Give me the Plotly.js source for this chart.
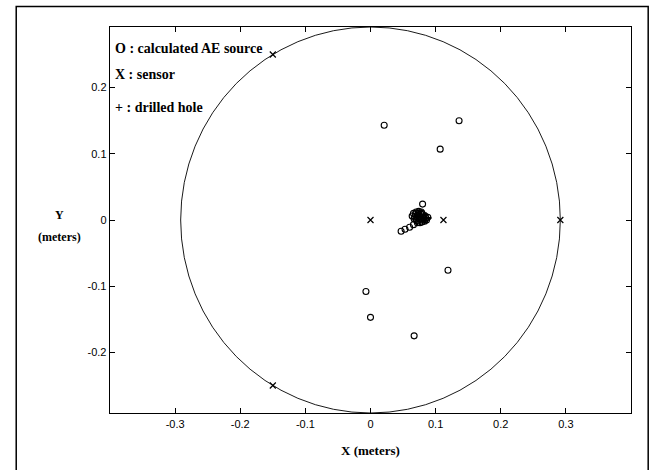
<!DOCTYPE html>
<html>
<head>
<meta charset="utf-8">
<script src="https://cdn.plot.ly/plotly-3.0.1.min.js"></script>
<style>
  html, body { margin: 0; padding: 0; background: #fff; }
  #chart { width: 650px; height: 470px; }
</style>
</head>
<body>
<div id="chart"></div>
<script>
// Calculated AE source locations (meters)
const sourceX = [0.021, 0.136, 0.107, 0.119, -0.007, 0.000, 0.067,
  0.047, 0.053, 0.060, 0.066, 0.072, 0.079, 0.080,
  0.066, 0.070, 0.074, 0.078, 0.068, 0.072, 0.076, 0.080, 0.084,
  0.070, 0.074, 0.078, 0.082, 0.086, 0.088, 0.076, 0.067,
  0.064, 0.069, 0.073, 0.077, 0.081, 0.085, 0.071, 0.075, 0.083, 0.079];
const sourceY = [0.143, 0.150, 0.107, -0.076, -0.108, -0.147, -0.175,
  -0.017, -0.014, -0.011, -0.007, -0.004, -0.003, 0.024,
  0.010, 0.012, 0.013, 0.012, 0.005, 0.007, 0.006, 0.008, 0.006,
  0.001, 0.002, 0.000, 0.002, 0.000, 0.004, -0.004, 0.002,
  0.006, 0.009, 0.010, 0.009, 0.004, 0.003, -0.001, 0.004, -0.002, 0.010];
// Sensor locations (meters)
const sensorX = [-0.150, -0.150, 0.2915, 0.000, 0.112];
const sensorY = [0.250, -0.250, 0.000, 0.000, 0.000];
// Drilled hole
const holeX = [0.085];
const holeY = [0.003];
// Plate boundary radius (meters)
const plateRadius = 0.2915;
// Ticks
const xTicks = [-0.3, -0.2, -0.1, 0, 0.1, 0.2, 0.3];
const xTickText = ['-0.3', '-0.2', '-0.1', '0', '0.1', '0.2', '0.3'];
const yTicks = [-0.2, -0.1, 0, 0.1, 0.2];
const yTickText = ['-0.2', '-0.1', '0', '0.1', '0.2'];

const serif = 'Liberation Serif, Times New Roman, serif';
const sans = 'Liberation Sans, Arial, sans-serif';

const traces = [
  {
    x: sourceX, y: sourceY, type: 'scatter', mode: 'markers',
    marker: { symbol: 'circle-open', size: 6, color: '#000', line: { width: 1.1, color: '#000' } },
    hoverinfo: 'skip', showlegend: false
  },
  {
    x: sensorX, y: sensorY, type: 'scatter', mode: 'markers',
    marker: { symbol: 'x-thin-open', size: 6, color: '#000', line: { width: 1.2, color: '#000' } },
    hoverinfo: 'skip', showlegend: false
  },
  {
    x: holeX, y: holeY, type: 'scatter', mode: 'markers',
    marker: { symbol: 'cross-thin-open', size: 8, color: '#000', line: { width: 2, color: '#000' } },
    hoverinfo: 'skip', showlegend: false
  }
];

const axisCommon = {
  showgrid: false, zeroline: false,
  showline: true, linecolor: '#000', linewidth: 1.3, mirror: 'ticks',
  ticks: 'inside', ticklen: 5, tickwidth: 1, tickcolor: '#000',
  tickfont: { family: sans, size: 11, color: '#000' },
  tickmode: 'array'
};

const layout = {
  width: 650, height: 470,
  margin: { l: 110, r: 19, t: 27, b: 57 },
  paper_bgcolor: '#fff', plot_bgcolor: '#fff',
  showlegend: false,
  xaxis: Object.assign({}, axisCommon, {
    range: [-0.4, 0.4], tickvals: xTicks, ticktext: xTickText
  }),
  yaxis: Object.assign({}, axisCommon, {
    range: [-plateRadius, plateRadius], tickvals: yTicks, ticktext: yTickText
  }),
  shapes: [
    {
      type: 'circle', xref: 'x', yref: 'y',
      x0: -plateRadius, x1: plateRadius, y0: -plateRadius, y1: plateRadius,
      line: { color: '#000', width: 0.9 }, layer: 'below'
    },
    {
      type: 'rect', xref: 'paper', yref: 'paper',
      x0: -0.180, x1: 1.033, y0: -0.2, y1: 1.053,
      line: { color: '#000', width: 1.5 }, fillcolor: 'rgba(0,0,0,0)'
    }
  ],
  annotations: [
    { text: '<b>O : calculated AE source</b>', xref: 'paper', yref: 'paper', x: 0.005, y: 0.945,
      xanchor: 'left', yanchor: 'middle', showarrow: false, font: { family: serif, size: 14, color: '#000' } },
    { text: '<b>X : sensor</b>', xref: 'paper', yref: 'paper', x: 0.005, y: 0.877,
      xanchor: 'left', yanchor: 'middle', showarrow: false, font: { family: serif, size: 14, color: '#000' } },
    { text: '<b>+ : drilled hole</b>', xref: 'paper', yref: 'paper', x: 0.005, y: 0.792,
      xanchor: 'left', yanchor: 'middle', showarrow: false, font: { family: serif, size: 14, color: '#000' } },
    { text: '<b>Y</b>', xref: 'paper', yref: 'paper', x: -0.096, y: 0.514,
      xanchor: 'center', yanchor: 'middle', showarrow: false, font: { family: serif, size: 12, color: '#000' } },
    { text: '<b>(meters)</b>', xref: 'paper', yref: 'paper', x: -0.096, y: 0.455,
      xanchor: 'center', yanchor: 'middle', showarrow: false, font: { family: serif, size: 12, color: '#000' } },
    { text: '<b>X (meters)</b>', xref: 'paper', yref: 'paper', x: 0.5, y: -0.097,
      xanchor: 'center', yanchor: 'middle', showarrow: false, font: { family: serif, size: 13, color: '#000' } }
  ]
};

Plotly.newPlot('chart', traces, layout, { staticPlot: true, displayModeBar: false });
</script>
</body>
</html>
